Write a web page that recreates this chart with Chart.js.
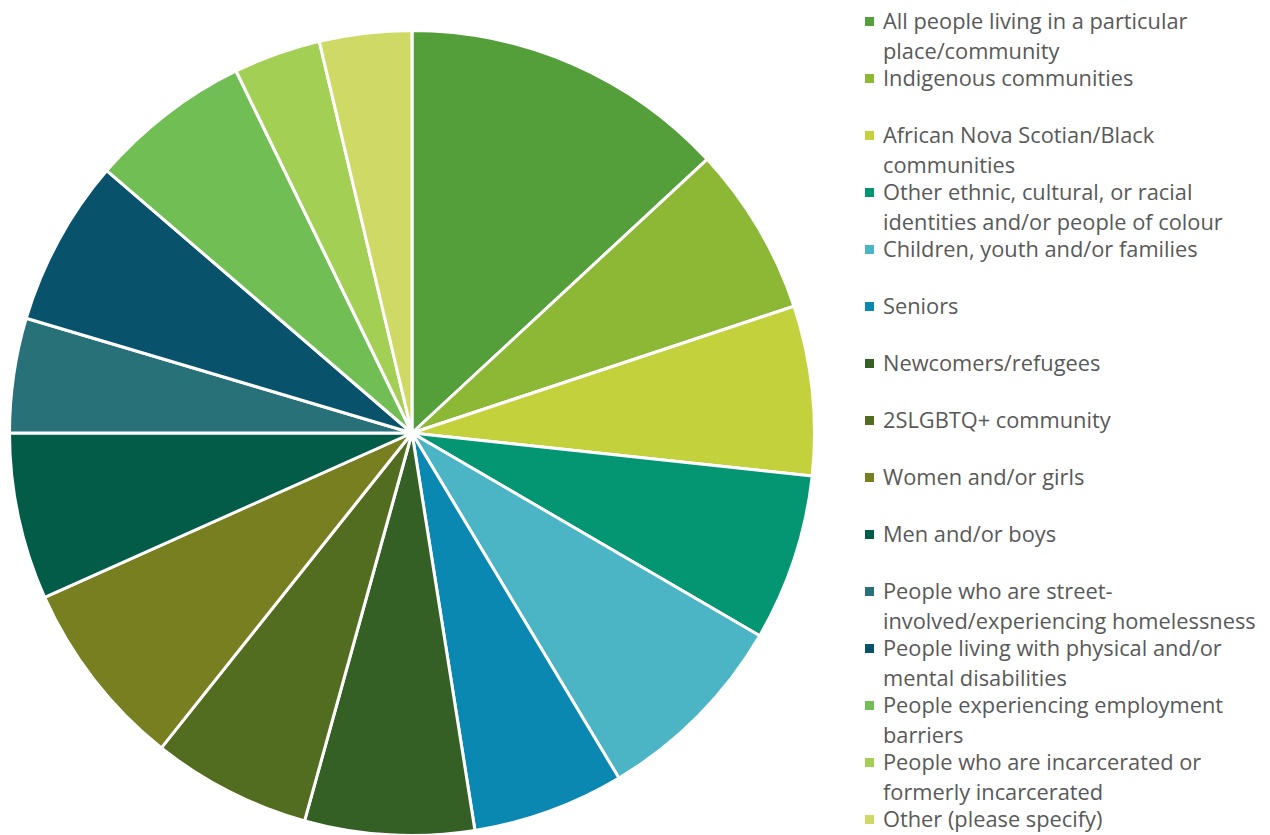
<!DOCTYPE html>
<html>
<head>
<meta charset="utf-8">
<script src="https://cdn.jsdelivr.net/npm/chart.js@4/dist/chart.umd.min.js"></script>
<style>
    html, body { margin: 0; padding: 0; background: #fff; overflow: hidden; }
    body { width: 1270px; height: 835px; position: relative; }
    .pie-box { position: absolute; left: 8px; top: 29px; width: 808px; height: 808px; }
    .legend { position: absolute; left: 863px; top: 0; width: 407px; font-family: "Open Sans", sans-serif; font-size: 21.8px; color: #595959; }
    .legend .item { position: absolute; left: 0; line-height: 30px; white-space: nowrap; }
    .legend .box { position: absolute; left: 2px; top: 11px; width: 9px; height: 9px; }
    .legend .txt { margin-left: 20px; }
</style>
</head>
<body>
<div class="pie-box"><canvas id="pieChart"></canvas></div>
<div class="legend" id="legend"></div>
<script>
// categories (multi-line, as wrapped in the reference)
const labels = [
    ['All people living in a particular', 'place/community'],
    'Indigenous communities',
    ['African Nova Scotian/Black', 'communities'],
    ['Other ethnic, cultural, or racial', 'identities and/or people of colour'],
    'Children, youth and/or families',
    'Seniors',
    'Newcomers/refugees',
    '2SLGBTQ+ community',
    'Women and/or girls',
    'Men and/or boys',
    ['People who are street-', 'involved/experiencing homelessness'],
    ['People living with physical and/or', 'mental disabilities'],
    ['People experiencing employment', 'barriers'],
    ['People who are incarcerated or', 'formerly incarcerated'],
    'Other (please specify)'
];

// share of responses, percent
const values = [13.1, 6.8, 6.8, 6.7, 8.0, 6.1, 6.8, 6.4, 7.6, 6.7, 4.6, 6.7, 6.5, 3.5, 3.7];

const colors = [
    '#559F3A', '#8DB836', '#C2D13C', '#049673', '#4BB5C6',
    '#0B88B2', '#345F25', '#536D20', '#777F21', '#025C48',
    '#287179', '#08526B', '#71BF54', '#A3CF55', '#CFDA66'
];

const pieChart = new Chart(
    document.getElementById('pieChart'),
    {
        type: 'pie',
        data: {
            labels: labels,
            datasets: [{
                data: values,
                backgroundColor: colors,
                borderColor: '#FFFFFF',
                borderWidth: 3
            }]
        },
        options: {
            responsive: true,
            maintainAspectRatio: false,
            animation: false,
            layout: { padding: 0 },
            plugins: {
                legend: { display: false },
                tooltip: { enabled: false }
            }
        }
    });

// html legend, items on a fixed 57px pitch like the reference
const legendBox = document.getElementById('legend')
labels.forEach((lab, i) => {
    const lines = Array.isArray(lab) ? lab : [lab]
    const item = document.createElement('div')
    item.className = 'item'
    item.style.top = (6 + 57 * i) + 'px'
    item.innerHTML = `<span class="box" style="background:${colors[i]}"></span><div class="txt">${lines.join('<br>')}</div>`
    legendBox.appendChild(item)
})
</script>
</body>
</html>
